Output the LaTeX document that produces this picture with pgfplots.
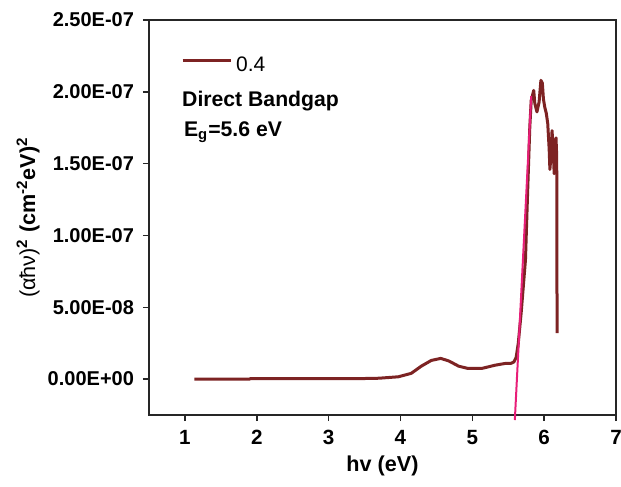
\documentclass[border=0pt]{standalone}
\usepackage{pgfplots}
\pgfplotsset{compat=1.18}
\usepackage{fontspec}
\setmainfont{Liberation Sans}
\definecolor{curvecol}{RGB}{125,35,35}
\definecolor{fitcol}{RGB}{232,30,120}
\begin{document}
\fontsize{10}{12}\selectfont
\begin{tikzpicture}
\begin{axis}[
    name=main,
    scale only axis,
    width=233.5pt, height=197.5pt,
    xmin=0.5, xmax=7,
    ymin=-2.5e-8, ymax=2.5e-7,
    xtick={1,2,3,4,5,6,7},
    ytick={0,5e-8,1e-7,1.5e-7,2e-7,2.5e-7},
    yticklabels={0.00E+00,5.00E-08,1.00E-07,1.50E-07,2.00E-07,2.50E-07},
    xticklabel={\bfseries\pgfmathprintnumber{\tick}},
    xticklabel style={font=\fontsize{10.3}{12}\selectfont\bfseries, yshift=-1pt},
    yticklabel style={font=\fontsize{10}{12}\selectfont\bfseries, xshift=-1pt},
    scaled y ticks=false,
    /pgf/number format/assume math mode=true,
    tick align=outside,
    xtick pos=bottom, ytick pos=left,
    major tick length=3pt,
    axis line style={line width=0.75pt, black!85},
    tick style={line width=0.75pt, black!85},
    xlabel={\bfseries hv (eV)},
    xlabel style={at={(axis description cs:0.5,-0.13)}, anchor=center, font=\fontsize{10.8}{12}\selectfont},
    ylabel={(αħν)\textsuperscript{\bfseries 2} \bfseries (cm\textsuperscript{-2}eV)\textsuperscript{2}},
    ylabel style={at={(axis description cs:-0.259,0.5)}, anchor=center, font=\fontsize{10.8}{12}\selectfont},
    clip=false,
    legend style={draw=none, fill=none, at={(axis description cs:0.068,0.884)}, anchor=west,
        font=\fontsize{10.5}{12}\selectfont, inner sep=0pt},
    legend cell align=left,
    legend image code/.code={\draw[#1] (0,0) -- (24pt,0);},
]
\addplot[curvecol, line width=1.5pt, line join=round] coordinates {
(1.13,0) (1.90,0) (1.91,3e-10) (3.0,3e-10) (3.5,4e-10) (3.7,6e-10)
(3.97,1.6e-9) (4.15,4.0e-9) (4.29,9.0e-9) (4.43,1.3e-8) (4.56,1.44e-8)
(4.67,1.27e-8) (4.81,9.0e-9) (4.94,7.4e-9) (5.13,7.4e-9) (5.32,9.7e-9)
(5.46,1.09e-8) (5.54,1.1e-8) (5.58,1.2e-8) (5.61,1.5e-8) (5.64,2.5e-8)
(5.68,4.6e-8) (5.74,8.3e-8) (5.77,1.30e-7) (5.80,1.75e-7) (5.82,1.94e-7)
(5.84,1.98e-7) (5.855,2.01e-7) (5.87,1.92e-7) (5.90,1.86e-7) (5.93,1.93e-7)
(5.955,2.08e-7) (5.975,2.06e-7) (5.99,1.95e-7) (6.01,1.89e-7) (6.03,1.85e-7)
(6.05,1.78e-7) (6.07,1.60e-7) (6.08,1.46e-7) (6.095,1.55e-7) (6.11,1.73e-7)
(6.125,1.60e-7) (6.14,1.43e-7) (6.155,1.55e-7) (6.165,1.68e-7) (6.175,1.55e-7)
(6.18,0.32e-7)
};
\addlegendentry{0.4}
\addplot[fitcol, line width=1pt, forget plot] coordinates {(5.592,-2.85e-8) (5.82,1.97e-7)};
\node[anchor=west, font=\fontsize{10.6}{12}\selectfont\bfseries] at (axis description cs:0.056,0.795) {Direct Bandgap};
\node[anchor=west, font=\fontsize{10.6}{12}\selectfont\bfseries] at (axis description cs:0.06,0.716) {E\textsubscript{g}=5.6 eV};
\end{axis}
\pgfresetboundingbox
\path[use as bounding box] ([shift={(-74.5pt,-36pt)}]main.south west) rectangle ([shift={(236pt,207.5pt)}]main.south west);
\end{tikzpicture}
\end{document}
